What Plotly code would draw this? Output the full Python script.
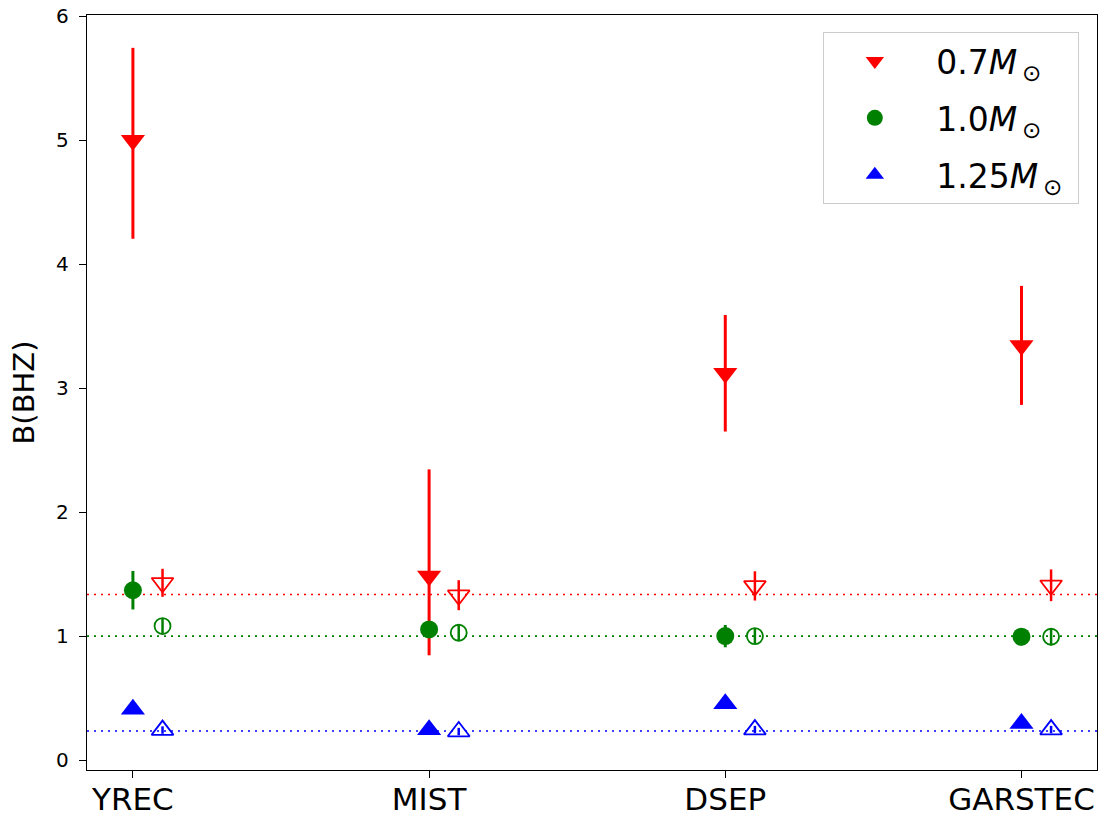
import plotly.graph_objects as go

# Stellar evolution codes along the x axis
codes = ["YREC", "MIST", "DSEP", "GARSTEC"]
code_pos = [0, 1, 2, 3]
offset = 0.1  # open symbols sit just right of the filled ones

# B(BHZ) per mass, filled symbols
b_07 = [5.00, 1.485, 3.12, 3.345]
b_07_up = [0.745, 0.86, 0.47, 0.48]
b_07_dn = [0.795, 0.64, 0.47, 0.48]

b_10 = [1.37, 1.054, 1.00, 0.995]
b_10_err = [0.155, 0.06, 0.09, 0.07]

b_125 = [0.41, 0.245, 0.454, 0.296]
b_125_err = [0.02, 0.02, 0.02, 0.02]

# B(BHZ) per mass, open symbols
b_07_open = [1.43, 1.33, 1.405, 1.41]
b_07_open_err = [0.113, 0.121, 0.118, 0.128]

b_10_open = [1.081, 1.027, 1.00, 0.995]
b_10_open_err = [0.06, 0.06, 0.06, 0.07]

b_125_open = [0.242, 0.23, 0.246, 0.246]
b_125_open_err = [0.03, 0.03, 0.03, 0.03]

# Reference levels (dotted lines)
ref_levels = [1.336, 1.0, 0.234]

masses = ["0.7", "1.0", "1.25"]
labels = [f"\u00a0{m}<i>M</i><sub>\u2009⊙</sub>\u00a0" for m in masses]
colors = ["#ff0000", "#008000", "#0000ff"]
symbols = ["triangle-down", "circle", "triangle-up"]
sizes = [21, 18, 21]

filled = [(b_07, b_07_up, b_07_dn), (b_10, b_10_err, b_10_err), (b_125, b_125_err, b_125_err)]
opened = [(b_07_open, b_07_open_err), (b_10_open, b_10_open_err), (b_125_open, b_125_open_err)]

fig = go.Figure()

for lvl, c in zip(ref_levels, colors):
    fig.add_hline(y=lvl, line=dict(color=c, width=1.6, dash="2px,5px"), layer="below")

for i in range(3):
    vals, up, dn = filled[i]
    fig.add_trace(go.Scatter(
        x=code_pos, y=vals, mode="markers", name=labels[i],
        legendgroup=f"g{i}",
        marker=dict(symbol=symbols[i], size=sizes[i], color=colors[i], line=dict(width=0)),
        error_y=dict(type="data", array=up, arrayminus=dn, symmetric=False,
                     color=colors[i], thickness=3, width=0),
    ))
    ovals, oerr = opened[i]
    fig.add_trace(go.Scatter(
        x=[p + offset for p in code_pos], y=ovals, mode="markers", showlegend=False,
        legendgroup=f"g{i}",
        marker=dict(symbol=symbols[i] + "-open", size=sizes[i] - 2, color=colors[i],
                    line=dict(width=1.8, color=colors[i])),
        error_y=dict(type="data", array=oerr, color=colors[i], thickness=2.5, width=0),
    ))

fig.update_layout(
    width=1107, height=819,
    margin=dict(l=87, r=10, t=15, b=49, autoexpand=False),
    paper_bgcolor="white", plot_bgcolor="white",
    font=dict(family="DejaVu Sans", color="black"),
    showlegend=True,
    legend=dict(
        x=0.982, y=0.9775, xanchor="right", yanchor="top",
        bgcolor="rgba(255,255,255,0.8)", bordercolor="#cccccc", borderwidth=1,
        font=dict(size=33, family="DejaVu Sans", color="black"),
        itemwidth=92, traceorder="grouped", tracegroupgap=11,
    ),
    xaxis=dict(
        range=[-0.155, 3.255], tickvals=code_pos, ticktext=codes,
        showgrid=False, zeroline=False, showline=True, mirror=True, automargin=False,
        linecolor="black", linewidth=1.3, ticks="outside", ticklen=7,
        tickcolor="black", tickfont=dict(size=31), ticklabelstandoff=-5,
    ),
    yaxis=dict(
        range=[-0.08, 6.01], dtick=1, tick0=0,
        showgrid=False, zeroline=False, showline=True, mirror=True, automargin=False,
        linecolor="black", linewidth=1.3, ticks="outside", ticklen=7,
        tickcolor="black", tickfont=dict(size=20), ticklabelstandoff=6,
        title=dict(text="B(BHZ)", font=dict(size=29), standoff=12),
    ),
)

fig.write_html("out.html")
